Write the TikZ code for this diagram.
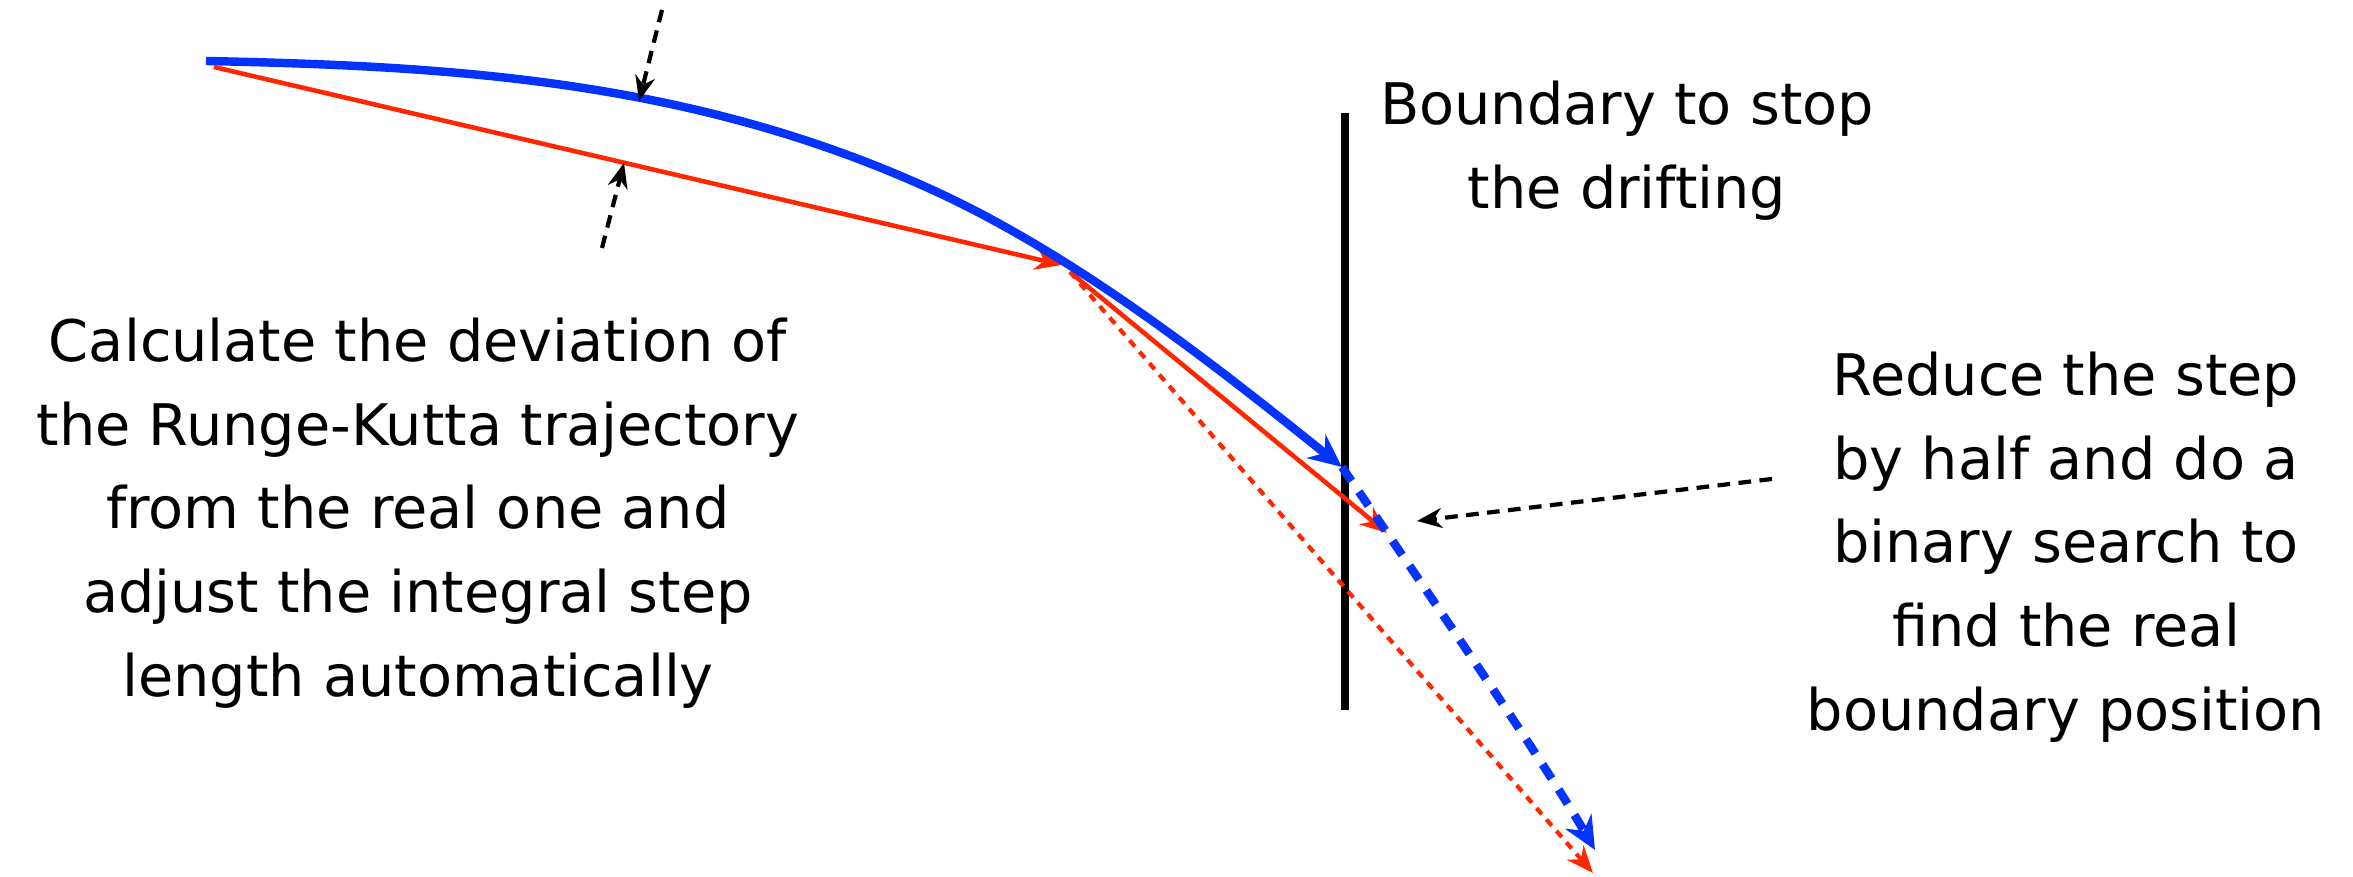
\documentclass[tikz,border=0pt]{standalone}
\usepackage{fontspec}
\setmainfont{DejaVu Sans}
\usetikzlibrary{arrows.meta}
\definecolor{trajblue}{RGB}{4,51,255}
\definecolor{rkred}{RGB}{255,38,0}
\begin{document}
\begin{tikzpicture}[x=0.01cm,y=-0.01cm,
  bluepath/.style={draw=trajblue, line width=2.4pt, line cap=butt},
  bluedash/.style={draw=trajblue, line width=2.4pt, dash pattern=on 4.8pt off 3.7pt},
  redpath/.style={draw=rkred, line width=1.3pt},
  reddot/.style={draw=rkred, line width=1.2pt, dash pattern=on 2.3pt off 2pt},
  bigtip/.style={-{Stealth[length=0.33cm,width=0.3cm]}},
  redtip/.style={-{Stealth[length=0.27cm,width=0.22cm]}},
  pointer/.style={draw=black, line width=1.2pt, dash pattern=on 3.6pt off 2.4pt,
                  -{Stealth[length=0.25cm,width=0.2cm]}},
  boundaryline/.style={draw=black, line width=2.3pt},
  note/.style={font=\fontsize{16.3}{23.8}\selectfont, align=center, inner sep=0pt}]
\useasboundingbox (0,0) rectangle (2353,877);

% key coordinates
\coordinate (rstart) at (214,67);
\coordinate (rmid) at (1062,265);
\coordinate (r2start) at (1070,272);
\coordinate (r2end) at (1387,533);
\coordinate (rdend) at (1593,873);
\coordinate (btop) at (1345,113);
\coordinate (bbot) at (1345,710);
\coordinate (bstart) at (206,61);
\coordinate (bjoin) at (926,187);
\coordinate (bhit) at (1342,467);
\coordinate (bend) at (1595,850);

% boundary
\draw[boundaryline] (btop) -- (bbot);

% red Runge-Kutta steps
\draw[redpath, redtip] (rstart) -- (rmid);
\draw[redpath, redtip] (r2start) -- (r2end);
\draw[reddot, redtip] (r2start) -- (rdend);

% blue real trajectory
\draw[bluepath, bigtip] (bstart) .. controls (446,66) and (686,79) .. (bjoin)
  .. controls (1076,254) and (1222,371) .. (bhit);
\draw[bluedash, bigtip] (bhit) .. controls (1402,555) and (1540,755) .. (bend);

% deviation pointers
\coordinate (p1s) at (662,10);
\coordinate (p1e) at (639,101);
\coordinate (p2s) at (602,248);
\coordinate (p2e) at (624,163);
\draw[pointer] (p1s) -- (p1e);
\draw[pointer] (p2s) -- (p2e);

\coordinate (p3s) at (1772,479);
\coordinate (p3e) at (1417,521);
\draw[pointer] (p3s) -- (p3e);

% texts
\node[note] (boundtxt) at (1627,151) {Boundary to stop\\the drifting};
\node[note] (lefttxt) at (418,513) {Calculate the deviation of\\the Runge-Kutta trajectory\\from the real one and\\adjust the integral step\\length automatically};
\node[note] (righttxt) at (2066,547) {Reduce the step\\by half and do a\\binary search to\\find the real\\boundary position};
\end{tikzpicture}
\end{document}
